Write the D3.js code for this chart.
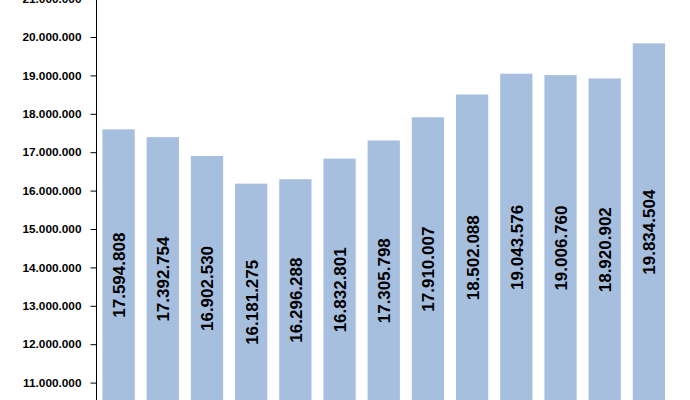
<!DOCTYPE html>
<html>
<head>
<meta charset="utf-8">
<script src="https://cdn.jsdelivr.net/npm/d3@7"></script>
<style>
  body { margin: 0; background: #fff; }
  svg { display: block; }
</style>
</head>
<body>
<div id="chart"></div>
<script>
// Data
const categories = ["1", "2", "3", "4", "5", "6", "7", "8", "9", "10", "11", "12", "13"];
const values = [
  17594808, 17392754, 16902530, 16181275, 16296288, 16832801, 17305798,
  17910007, 18502088, 19043576, 19006760, 18920902, 19834504,
];
const tickValues = [11000000, 12000000, 13000000, 14000000, 15000000, 16000000,
  17000000, 18000000, 19000000, 20000000, 21000000];

const barColor = "#A7BFDE";

const width = 690,
  height = 400;

// de-DE style thousands separator
const fmt = (v) => d3.format(",")(v).replace(/,/g, ".");

const svg = d3
  .select("#chart")
  .append("svg")
  .attr("width", width)
  .attr("height", height);

// y axis runs 10M..21M, bottom part falls outside the window
const y = d3.scaleLinear().domain([10000000, 21000000]).range([421, -1.4]);

const x = d3
  .scaleBand()
  .domain(categories)
  .range([96.5, 671])
  .paddingInner(0.27)
  .paddingOuter(0.135);

// Bars
svg
  .append("g")
  .selectAll("rect")
  .data(values)
  .join("rect")
  .attr("x", (d, i) => x(categories[i]))
  .attr("y", (d) => y(d))
  .attr("width", x.bandwidth())
  .attr("height", (d) => y.range()[0] - y(d))
  .attr("fill", barColor);

// Value labels, rotated inside bars
svg
  .append("g")
  .selectAll("text")
  .data(values)
  .join("text")
  .attr("transform", (d, i) => {
    const cx = x(categories[i]) + x.bandwidth() / 2 + 1;
    const cy = (y(d) + y.range()[0]) / 2;
    return `translate(${cx},${cy}) rotate(-90)`;
  })
  .attr("text-anchor", "middle")
  .attr("dominant-baseline", "central")
  .attr("font-family", "'Liberation Sans', Arial, sans-serif")
  .attr("font-weight", "bold")
  .attr("font-size", "17px")
  .attr("fill", "#000")
  .text((d) => fmt(d));

// Y axis
const yAxis = svg
  .append("g")
  .attr("transform", "translate(96.5,0)")
  .call(
    d3
      .axisLeft(y)
      .tickValues(tickValues)
      .tickSize(6)
      .tickPadding(9)
      .tickFormat(fmt),
  );

yAxis.select(".domain").attr("stroke", "#000").attr("d", "M0,-2V421");
yAxis.selectAll(".tick line").attr("stroke", "#000");
yAxis
  .selectAll(".tick text")
  .attr("fill", "#000")
  .attr("font-family", "'Liberation Sans', Arial, sans-serif")
  .attr("font-weight", "bold")
  .attr("font-size", "11.8px");
</script>
</body>
</html>
